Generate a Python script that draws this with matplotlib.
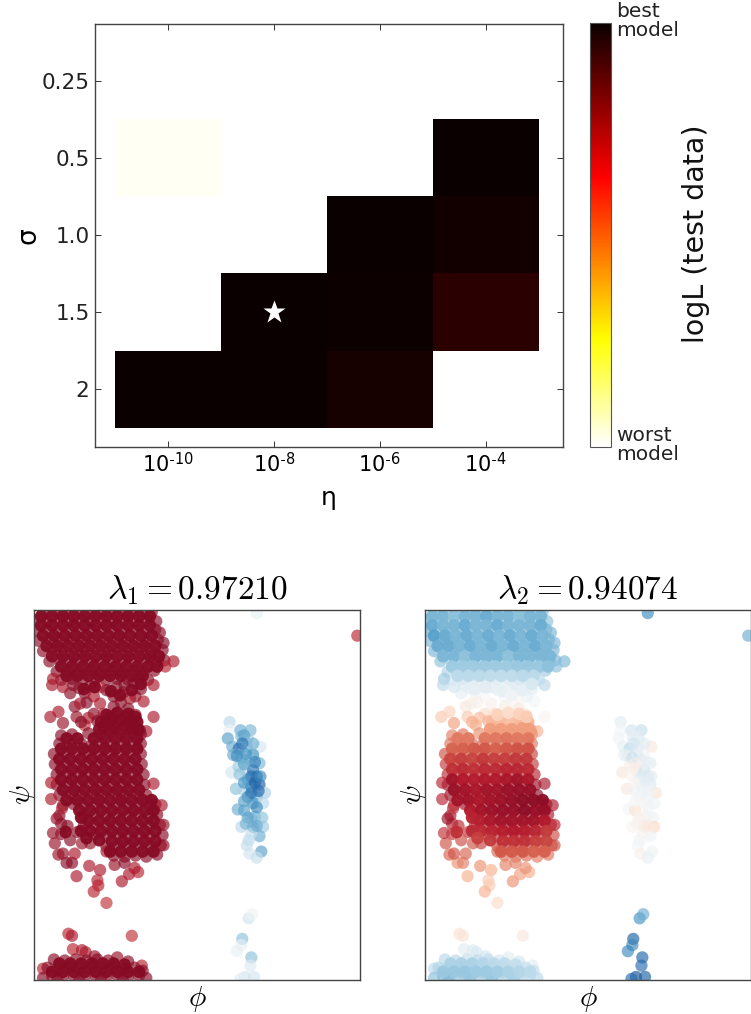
import numpy as np
import matplotlib
matplotlib.use('Agg')
import matplotlib.pyplot as plt

plt.rcParams['mathtext.fontset'] = 'cm'

W, H = 751.0, 1014.0

sigma_labels = ['0.25', '0.5', '1.0', '1.5', '2']
eta_labels = [r'10$^{\mathregular{\text{-}10}}$', r'10$^{\mathregular{\text{-}8}}$',
              r'10$^{\mathregular{\text{-}6}}$', r'10$^{\mathregular{\text{-}4}}$']
# rows are sigma, columns are eta, 1 = best model, 0 = worst model
logl = np.array([
    [np.nan, np.nan, np.nan, np.nan],
    [0.015, np.nan, np.nan, 1.0],
    [np.nan, np.nan, 1.0, 0.985],
    [np.nan, 1.0, 0.995, 0.95],
    [1.0, 1.0, 0.98, np.nan],
])
best_eta = 1
best_sigma = 3

titles = [r'$\lambda_1 = 0.97210$', r'$\lambda_2 = 0.94074$']

# every row: phi, psi, first eigenvector, second eigenvector
top_blob = np.array([
    [-170,178,1,-.5],[-158,179,1,-.45],[-146,178,1,-.5],[-134,179,1,-.55],[-122,178,1,-.5],[-110,179,1,-.45],
    [-98,178,1,-.5],[-86,179,1,-.5],[-74,178,1,-.55],[-62,179,1,-.5],[-50,178,1,-.45],
    [-178,170,1,-.5],[-165,169,1,-.55],[-152,170,1,-.5],[-140,169,1,-.45],[-128,170,1,-.5],[-116,169,1,-.55],
    [-104,170,1,-.5],[-92,169,1,-.45],[-80,170,1,-.5],[-68,169,1,-.55],[-56,170,1,-.5],[-45,169,1,-.45],
    [-178,160,1,-.55],[-166,161,1,-.5],[-154,160,1,-.6],[-142,161,1,-.5],[-130,160,1,-.55],[-118,161,1,-.5],
    [-106,160,1,-.5],[-94,161,1,-.55],[-82,160,1,-.5],[-70,161,1,-.5],[-58,160,1,-.55],[-46,161,1,-.5],[-41,158,1,-.5],
    [-175,150,1,-.5],[-163,151,1,-.55],[-151,150,1,-.65],[-139,151,1,-.5],[-127,150,1,-.55],[-115,151,1,-.5],
    [-103,150,1,-.55],[-91,151,1,-.5],[-79,150,1,-.5],[-67,151,1,-.55],[-55,150,1,-.5],[-43,151,1,-.55],[-37,148,1,-.5],
    [-170,140,1,-.5],[-158,141,1,-.45],[-146,140,1,-.55],[-134,141,1,-.5],[-122,140,1,-.5],[-110,141,1,-.55],
    [-98,140,1,-.5],[-86,141,1,-.5],[-74,140,1,-.55],[-62,141,1,-.5],[-50,140,1,-.55],[-38,141,1,-.5],
    [-163,130,1,-.45],[-151,131,1,-.4],[-139,130,1,-.45],[-127,131,1,-.5],[-115,130,1,-.45],[-103,131,1,-.5],
    [-91,130,1,-.45],[-79,131,1,-.5],[-67,130,1,-.5],[-55,131,1,-.45],[-43,130,1,-.5],[-36,131,1,-.5],
    [-155,120,1,-.35],[-143,121,1,-.3],[-131,120,1,-.35],[-119,121,1,-.4],[-107,120,1,-.35],[-95,121,1,-.3],
    [-83,120,1,-.35],[-71,121,1,-.4],[-59,120,1,-.35],[-47,121,1,-.4],
    [-150,112,1,-.2],[-138,113,1,-.25],[-126,112,1,-.2],[-112,113,1,-.25],[-100,112,1,-.2],[-88,113,1,-.2],
    [-76,112,1,-.25],[-64,113,1,-.2],[-54,112,1,-.3],
    [-159,113,.9,-.4],[-26,130,.9,-.5],[-35,125,.85,-.45],
])
top_fill = np.array([
    [-172,174,1,-.5],[-160,174,1,-.5],[-148,174,1,-.45],[-136,174,1,-.5],[-124,174,1,-.5],[-112,174,1,-.55],
    [-100,174,1,-.5],[-88,174,1,-.5],[-76,174,1,-.45],[-64,174,1,-.5],[-52,174,1,-.5],
    [-172,165,1,-.55],[-160,165,1,-.5],[-148,165,1,-.5],[-136,165,1,-.55],[-124,165,1,-.5],[-112,165,1,-.5],
    [-100,165,1,-.55],[-88,165,1,-.5],[-76,165,1,-.5],[-64,165,1,-.5],[-52,165,1,-.55],
    [-170,155,1,-.6],[-158,155,1,-.55],[-146,155,1,-.5],[-134,155,1,-.55],[-122,155,1,-.5],[-110,155,1,-.55],
    [-98,155,1,-.5],[-86,155,1,-.55],[-74,155,1,-.5],[-62,155,1,-.55],[-50,155,1,-.5],
    [-166,145,1,-.55],[-154,145,1,-.55],[-142,145,1,-.5],[-130,145,1,-.55],[-118,145,1,-.5],[-106,145,1,-.55],
    [-94,145,1,-.5],[-82,145,1,-.55],[-70,145,1,-.5],[-58,145,1,-.55],[-46,145,1,-.5],
    [-160,135,1,-.5],[-148,135,1,-.5],[-136,135,1,-.45],[-124,135,1,-.5],[-112,135,1,-.5],[-100,135,1,-.5],
    [-88,135,1,-.45],[-76,135,1,-.5],[-64,135,1,-.5],[-52,135,1,-.5],[-42,135,1,-.5],
    [-150,125,1,-.4],[-138,125,1,-.4],[-126,125,1,-.4],[-114,125,1,-.4],[-102,125,1,-.4],[-90,125,1,-.4],
    [-78,125,1,-.42],[-66,125,1,-.42],[-54,125,1,-.42],[-44,125,1,-.45],
    [-144,116,1,-.3],[-132,116,1,-.3],[-120,116,1,-.3],[-108,116,1,-.28],[-96,116,1,-.28],[-84,116,1,-.28],
    [-72,116,1,-.3],[-60,116,1,-.3],
])
neck = np.array([
    [-160,107,.9,-.3],[-48,107,.9,-.3],[-59,91,.9,-.02],[-68,96,.95,-.1],[-48,76,.9,.02],[-68,78,.95,.15],
    [-162,76,.9,.3],[-153,81,.9,.25],[-148,70,.95,.45],[-135,86,1,.12],[-133,76,.95,.3],[-124,99,1,-.05],
    [-107,89,.9,.05],[-114,79,1,.2],[-103,79,.9,.2],[-92,96,1,-.02],[-81,100,1,-.08],[-74,94,.9,0],
    [-114,96,.9,0],[-129,89,.9,.08],[-140,99,1,-.1],[-124,68,.8,.4],[-120,75,.9,.35],[-96,76,1,.25],
    [-89,79,1,.2],[-78,76,1,.3],[-70,70,1,.4],[-56,62,.9,.4],[-63,63,1,.45],[-107,105,.8,-.12],
    [-100,102,1,-.1],[-89,105,1,-.12],[-70,109,1,-.18],[-137,107,1,-.15],[-148,105,.9,-.2],
    [-130,104,1,-.12],[-118,106,1,-.12],[-80,107,1,-.15],[-62,103,1,-.12],[-92,86,1,.08],[-84,90,1,.02],
    [-128,71,1,.4],[-110,72,1,.38],[-100,70,1,.4],[-88,70,1,.42],[-80,68,1,.42],[-92,66,1,.45],[-104,66,1,.48],
    [-72,64,1,.45],[-76,84,1,.12],[-122,90,1,.06],
])
neck_fill = np.array([
    [-125,103,1,-.1],[-113,105,1,-.12],[-95,101,1,-.08],[-85,97,1,-.05],[-72,102,1,-.1],[-62,108,1,-.18],
    [-106,71,1,.36],[-95,72,1,.34],[-84,73,1,.32],[-74,72,1,.36],[-66,71,1,.38],
    [-108,64,1,.46],[-96,64,1,.46],[-84,64,1,.46],[-72,65,1,.46],[-65,64,1,.46],
    [-100,78,1,.25],[-88,80,1,.2],[-76,79,1,.25],[-68,76,1,.28],
])
mid_blob = np.array([
    [-150,58,1,.55],[-138,59,1,.6],[-120,60,1,.5],[-108,59,1,.55],[-96,60,1,.5],[-84,59,1,.55],[-72,60,1,.5],[-62,59,1,.5],
    [-152,50,1,.6],[-140,49,1,.62],[-128,50,1,.6],[-116,49,1,.65],[-104,50,1,.6],[-92,49,1,.62],[-80,50,1,.65],[-68,49,1,.65],[-62,50,1,.6],
    [-158,40,1,.7],[-146,41,1,.72],[-134,40,1,.7],[-122,41,1,.75],[-110,40,1,.72],[-98,41,1,.7],[-86,40,1,.75],[-74,41,1,.72],[-62,40,1,.75],
    [-157,30,1,.78],[-145,31,1,.8],[-133,30,1,.78],[-121,31,1,.8],[-109,30,1,.72],[-97,31,1,.8],[-85,30,1,.82],[-73,31,1,.8],[-61,30,1,.78],
    [-155,20,1,.82],[-143,21,1,.85],[-131,20,1,.82],[-119,21,1,.85],[-107,20,1,.8],[-95,21,1,.85],[-83,20,1,.88],[-71,21,1,.85],[-59,20,1,.85],
    [-155,10,1,.95],[-143,11,1,.9],[-131,10,1,.88],[-119,11,1,.9],[-107,10,1,.85],[-95,11,1,.92],[-83,10,1,.95],[-71,11,1,.92],[-58,10,1,.95],
    [-152,0,1,.95],[-140,1,1,.92],[-128,0,1,.9],[-116,1,1,.92],[-104,0,1,.9],[-92,1,1,.95],[-80,0,1,.98],[-68,1,1,.95],[-56,0,1,.98],
    [-148,-10,1,.88],[-136,-9,1,.92],[-124,-10,1,.9],[-112,-9,1,.95],[-100,-10,1,.92],[-88,-9,1,.95],[-76,-10,1,.98],[-64,-9,1,.98],[-52,-10,1,.98],[-46,-9,1,.95],
    [-125,-20,1,.85],[-113,-19,1,.9],[-101,-20,1,.92],[-89,-19,1,.95],[-77,-20,1,.92],[-65,-19,1,.95],[-53,-20,1,.92],[-44,-19,1,.9],
    [-125,-30,1,.85],[-113,-29,1,.85],[-101,-30,1,.88],[-89,-29,1,.92],[-77,-30,1,.85],[-65,-29,1,.9],[-53,-30,1,.85],[-41,-29,1,.82],
    [-143,-30,1,.82],[-132,-36,1,.8],[-112,-38,1,.78],[-100,-40,1,.82],[-88,-39,1,.85],[-76,-40,1,.88],[-64,-39,1,.82],[-52,-40,1,.8],[-38,-39,1,.72],
    [-150,-38,1,.78],[-140,-44,1,.72],[-100,-50,1,.72],[-88,-49,1,.75],[-76,-50,1,.8],[-64,-49,1,.72],[-52,-50,1,.75],[-40,-49,1,.7],
    [-92,-59,1,.6],[-80,-60,1,.6],[-68,-59,1,.62],[-56,-60,1,.58],[-44,-58,1,.6],
    [-152,-20,1,.9],[-150,-28,1,.85],
])
mid_fill = np.array([
    [-144,55,1,.58],[-132,55,1,.58],[-114,55,1,.58],[-102,55,1,.58],[-90,55,1,.6],[-78,55,1,.58],[-66,55,1,.58],
    [-150,45,1,.65],[-138,45,1,.66],[-126,45,1,.68],[-114,45,1,.68],[-102,45,1,.66],[-90,45,1,.68],[-78,45,1,.7],[-66,45,1,.7],
    [-152,35,1,.74],[-140,35,1,.76],[-128,35,1,.74],[-116,35,1,.78],[-104,35,1,.76],[-92,35,1,.76],[-80,35,1,.78],[-68,35,1,.78],
    [-150,25,1,.8],[-138,25,1,.82],[-126,25,1,.8],[-114,25,1,.82],[-102,25,1,.82],[-90,25,1,.84],[-78,25,1,.84],[-66,25,1,.82],
    [-150,15,1,.92],[-138,15,1,.88],[-126,15,1,.86],[-114,15,1,.88],[-102,15,1,.88],[-90,15,1,.9],[-78,15,1,.92],[-66,15,1,.9],
    [-148,5,1,.95],[-136,5,1,.92],[-124,5,1,.9],[-112,5,1,.92],[-100,5,1,.92],[-88,5,1,.95],[-76,5,1,.96],[-64,5,1,.96],
    [-144,-5,1,.92],[-132,-5,1,.92],[-120,-5,1,.9],[-108,-5,1,.92],[-96,-5,1,.94],[-84,-5,1,.96],[-72,-5,1,.98],[-60,-5,1,.98],[-50,-5,1,.98],
    [-130,-15,1,.88],[-118,-15,1,.92],[-106,-15,1,.94],[-94,-15,1,.96],[-82,-15,1,.96],[-70,-15,1,.98],[-58,-15,1,.96],[-48,-15,1,.96],
    [-120,-25,1,.86],[-108,-25,1,.9],[-96,-25,1,.92],[-84,-25,1,.92],[-72,-25,1,.92],[-60,-25,1,.92],[-48,-25,1,.88],
    [-128,-22,1,.85],[-128,-35,1,.82],[-118,-35,1,.82],[-106,-35,1,.85],[-94,-35,1,.86],[-82,-35,1,.88],[-70,-35,1,.86],[-58,-35,1,.84],[-46,-35,1,.78],
    [-145,-36,1,.8],[-122,-42,1,.75],[-108,-44,1,.78],[-94,-45,1,.8],[-82,-45,1,.8],[-70,-45,1,.8],[-58,-45,1,.76],[-46,-45,1,.74],
    [-96,-55,1,.68],[-84,-55,1,.68],[-72,-55,1,.68],[-60,-55,1,.66],[-48,-55,1,.66],
])
outliers = np.array([
    [-157,-47,.95,.7],[-153,-58,.95,.65],[-144,-66,1,.5],[-138,-66,1,.55],[-148,-57,.95,.7],[-135,-57,.9,.65],
    [-133,-79,.9,.4],[-119,-69,.9,.5],[-107,-73,.9,.4],[-110,-83,.85,.3],[-109,-88,.85,.28],[-114,-94,.85,.38],
    [-100,-105,.8,.2],[-83,-84,.9,.5],[-75,-77,.9,.45],[-65,-75,.85,.4],[-91,-68,.95,.55],[-80,-66,1,.55],
    [-69,-71,.9,.5],[-48,11,.9,.9],[-39,-10,.9,.9],[-161,12,.9,.85],[-161,-4,.9,.85],[-149,-13,.9,.8],
    [-155,-23,.95,.95],[-159,-37,.95,.8],[-118,-47,.95,.75],[-127,-47,.95,.7],[-100,-55,.9,.65],[-37,-49,.95,.7],
    [-37,-29,.95,.85],[177,155,.85,-.55],
])
bottom_blob = np.array([
    [-142,-135,.85,.18],[-138,-137,.9,.15],[-72,-137,.8,.12],[-137,-150,.85,-.12],[-127,-151,.9,-.15],[-123,-153,.9,-.18],
    [-113,-157,.95,-.2],[-88,-158,.95,-.12],[-61,-166,.85,-.12],[-170,-169,.85,-.28],
    [-158,-160,1,-.3],[-146,-161,1,-.3],[-134,-160,1,-.25],[-122,-161,1,-.3],[-110,-160,1,-.28],[-98,-161,1,-.22],[-76,-162,1,-.2],
    [-165,-168,1,-.35],[-153,-169,1,-.4],[-141,-168,1,-.38],[-129,-169,1,-.4],[-117,-168,1,-.35],[-105,-169,1,-.38],[-93,-168,1,-.32],[-81,-169,1,-.3],[-69,-168,1,-.28],[-60,-171,1,-.25],
    [-160,-176,1,-.5],[-148,-177,1,-.45],[-136,-176,1,-.48],[-124,-177,1,-.42],[-112,-176,1,-.45],[-100,-177,1,-.4],[-88,-176,1,-.38],[-76,-177,1,-.35],[-64,-176,1,-.32],[-56,-178,1,-.3],
    [-170,-178,1,-.45],[-154,-180,1,-.5],[-130,-180,1,-.45],[-106,-180,1,-.45],[-82,-180,1,-.38],
])
bottom_fill = np.array([
    [-152,-164,1,-.35],[-140,-164,1,-.35],[-128,-164,1,-.35],[-116,-164,1,-.32],[-104,-164,1,-.3],[-92,-164,1,-.28],[-80,-165,1,-.26],
    [-160,-172,1,-.42],[-148,-172,1,-.42],[-136,-172,1,-.42],[-124,-172,1,-.4],[-112,-172,1,-.4],[-100,-172,1,-.38],[-88,-172,1,-.35],[-76,-172,1,-.32],[-64,-172,1,-.3],
])
right_cluster = np.array([
    [36,71,-.3,-.12],[36,63,-.06,-.03],[34,55,-.6,-.04],[48,63,-.55,-.2],[59,63,-.5,-.25],[49,57,-.5,-.12],[56,55,-.35,-.15],
    [70,47,-.2,.12],[39,47,-.55,-.08],[46,45,-.85,-.3],[55,47,-.4,-.1],[62,39,-.7,-.05],[40,39,-.55,-.1],[49,36,-.5,-.45],
    [58,34,-.45,-.15],[69,31,-.5,-.12],[38,22,-.2,.12],[46,28,-.4,.08],[53,24,-.3,.15],[62,24,-.8,-.2],[66,18,-.85,-.2],
    [47,20,-.45,.02],[56,15,-.55,-.1],[69,10,-.9,-.15],[75,2,-.35,.15],[43,6,-.45,.12],[51,5,-.35,-.05],[60,8,-.75,-.1],
    [66,-2,-.5,-.05],[56,-2,-.7,.02],[62,-8,-.65,.02],[73,-8,-.3,-.05],[45,-14,-.55,-.03],[52,-15,-.6,.15],[64,-21,-.5,-.02],
    [72,-22,-.45,-.05],[49,-31,-.3,.02],[62,-31,-.7,.2],[73,-31,-.4,.22],[60,-23,-.5,.04],[69,-40,-.55,-.05],[57,-44,-.3,-.04],
    [55,-49,-.25,-.02],[71,-55,-.6,-.05],[58,-57,-.22,.06],[66,-61,-.25,-.08],[60,-37,-.25,.02],
    [52,58,-.6,-.1],[62,50,-.55,-.12],[50,50,-.8,-.2],[44,38,-.7,-.1],[54,40,-.65,-.12],[64,32,-.75,-.08],[52,30,-.6,.06],
    [60,18,-.85,-.15],[52,12,-.65,.02],[64,12,-.9,-.1],[70,18,-.7,-.12],[60,2,-.8,-.05],[68,4,-.85,-.05],[52,-6,-.6,-.03],
    [66,-12,-.7,-.04],[56,-22,-.6,.05],[66,-30,-.55,.1],[54,-28,-.5,.04],
])
lower_right = np.array([
    [57,-120,-.22,-.65],[61,-116,-.04,-.55],[50,-140,-.45,-.9],[44,-152,-.08,-.7],[49,-146,-.1,-.72],[60,-158,-.45,-.88],
    [59,-166,-.15,-.85],[53,-177,-.2,-.95],[63,-177,-.2,-.9],[48,-179,-.12,-.85],[66,177,-.08,-.7],
])

fill_points = np.vstack([top_fill, neck_fill, mid_fill, bottom_fill])
points = np.vstack([top_blob, neck, mid_blob, outliers, bottom_blob, right_cluster, lower_right])


def pixel_axes(left, top, right, bottom):
    return fig.add_axes([left / W, 1 - bottom / H, (right - left) / W, (bottom - top) / H])


fig = plt.figure(figsize=(W / 100, H / 100), dpi=100)

ax = pixel_axes(95, 24, 563, 447)
im = ax.imshow(np.ma.masked_invalid(logl), cmap='hot_r', vmin=0, vmax=1, aspect='auto',
               interpolation='nearest')
ax.plot(best_eta, best_sigma, '*', color='white', ms=17, mec='none')
ax.set_xlim(-0.69, 3.73)
ax.set_ylim(4.75, -0.74)
ax.set_xticks(range(len(eta_labels)))
ax.set_xticklabels(eta_labels, fontsize=15)
ax.set_yticks(range(len(sigma_labels)))
ax.set_yticklabels(sigma_labels, fontsize=15.5, color='#222222')
ax.tick_params(direction='in', length=4, width=0.7, color='#333333', top=True, right=True, pad=4)
ax.tick_params(axis='x', pad=3)
ax.set_xlabel('\u03b7', fontsize=18, labelpad=7)
ax.set_ylabel('\u03c3', fontsize=19, labelpad=0)
for s in ax.spines.values():
    s.set_linewidth(1.0)
    s.set_color('#444444')

cax = pixel_axes(590, 23, 611, 447)
cb = fig.colorbar(im, cax=cax)
cb.set_ticks([])
cb.outline.set_edgecolor('#555555')
fig.text(616 / W, 1 - 21 / H, 'best\nmodel', fontsize=14.5, va='center', ha='left', color='#222222', linespacing=1.05)
fig.text(616 / W, 1 - 445 / H, 'worst\nmodel', fontsize=14.5, va='center', ha='left', color='#222222', linespacing=1.05)
fig.text(696 / W, 1 - 234 / H, 'logL (test data)', fontsize=20.5, rotation=90, va='center', ha='center', color='#111111')

boxes = [(34, 610, 360, 980), (425, 610, 751, 980)]
for i in range(2):
    a = pixel_axes(*boxes[i])
    a.scatter(points[:, 0], points[:, 1], c=points[:, 2 + i], cmap='RdBu_r', vmin=-1.1, vmax=1.1,
              s=78, alpha=0.65, linewidths=0)
    a.scatter(fill_points[:, 0], fill_points[:, 1], c=fill_points[:, 2 + i], cmap='RdBu_r', vmin=-1.1, vmax=1.1,
              s=82, alpha=0.95, linewidths=0)
    a.set_xlim(-180, 180)
    a.set_ylim(-180, 180)
    a.set_xticks([])
    a.set_yticks([])
    a.set_title(titles[i], fontsize=24, pad=8)
    a.set_xlabel(r'$\phi$', fontsize=21, labelpad=3)
    a.set_ylabel(r'$\psi$', fontsize=21, labelpad=-3)
    for s in a.spines.values():
        s.set_linewidth(1.0)
        s.set_color('#444444')

fig.savefig('out.png', dpi=100)
